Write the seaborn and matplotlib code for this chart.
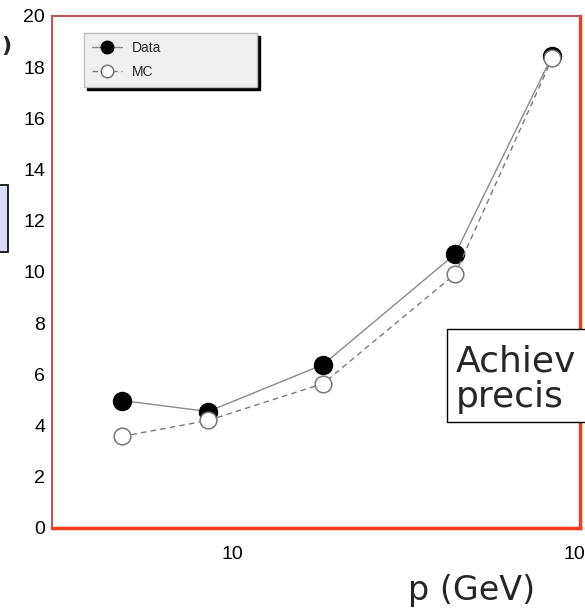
import matplotlib
matplotlib.use("Agg")
import matplotlib.pyplot as plt
from matplotlib.patches import Rectangle
from matplotlib.ticker import MultipleLocator, LogLocator, NullFormatter
import seaborn as sns
import pandas as pd

# ---- data ----
p_gev = [4.8, 8.5, 18.2, 43.7, 83.2]
data_vals = [4.98, 4.55, 6.38, 10.7, 18.45]
mc_vals = [3.58, 4.2, 5.64, 9.92, 18.35]
series_labels = ["Data", "MC"]
y_ticks = [0, 2, 4, 6, 8, 10, 12, 14, 16, 18, 20]
x_ticks = [10, 100]
x_tick_labels = ["10", "100"]

sns.set_style("white")
plt.rcParams["font.family"] = ["Liberation Sans", "DejaVu Sans"]

W, H = 585, 608
fig = plt.figure(figsize=(W / 100, H / 100), dpi=100)
ax = fig.add_axes([52 / W, 1 - 528 / H, (580 - 52) / W, (528 - 16) / H])

df_data = pd.DataFrame({"p": p_gev, "val": data_vals})
df_mc = pd.DataFrame({"p": p_gev, "val": mc_vals})

sns.lineplot(data=df_data, x="p", y="val", ax=ax, color="#8a8a8a", lw=1.0,
             marker="o", markersize=13, markerfacecolor="black",
             markeredgecolor="black", markeredgewidth=1, label=series_labels[0])
sns.lineplot(data=df_mc, x="p", y="val", ax=ax, color="#7a7a7a", lw=1.0,
             linestyle=(0, (4, 3)), marker="o", markersize=12,
             markerfacecolor="white", markeredgecolor="#777777",
             markeredgewidth=1.1, label=series_labels[1])

ax.set_xscale("log")
ax.set_xlim(3.02, 100)
ax.set_ylim(0, 20)
ax.set_xticks(x_ticks)
ax.set_xticklabels(x_tick_labels)
ax.xaxis.set_minor_locator(LogLocator(base=10, subs=range(2, 10)))
ax.xaxis.set_minor_formatter(NullFormatter())
ax.set_yticks(y_ticks)
ax.yaxis.set_minor_locator(MultipleLocator(0.4))
ax.set_xlabel("")
ax.set_ylabel("")

ax.tick_params(which="both", direction="in", color="#808080", width=1,
               top=False, right=False, labelsize=14, labelcolor="black")
ax.tick_params(which="major", length=10.8)
ax.tick_params(which="minor", length=5)
ax.tick_params(axis="y", which="major", pad=5)
ax.tick_params(axis="x", which="major", pad=13)

for side in ("left", "top"):
    ax.spines[side].set_color("#b05a5a")
    ax.spines[side].set_linewidth(1.5)
for side in ("right", "bottom"):
    ax.spines[side].set_color("#ff3a1a")
    ax.spines[side].set_linewidth(2.5)

leg = ax.legend(loc="upper left", bbox_to_anchor=(84 / W, 1 - 87 / H, 173 / W, 54 / H),
                bbox_transform=fig.transFigure, mode="expand", borderaxespad=0,
                frameon=True, fancybox=False,
                shadow={"ox": 2.5, "oy": -2.5, "facecolor": "black",
                        "edgecolor": "black", "alpha": 1},
                prop={"family": "Liberation Sans", "size": 10},
                handlelength=2.2, handletextpad=0.7, borderpad=0.55,
                labelspacing=0.75)
leg.get_frame().set_facecolor("#f0f0f0")
leg.get_frame().set_edgecolor("#bdbdbd")
leg.get_frame().set_linewidth(1)
for h in leg.legend_handles:
    h.set_markersize(9)

# cropped slide elements around the chart
fig.text(1 / W, 1 - 46 / H, ")", fontsize=16, fontweight="bold",
         ha="left", va="center", family="DejaVu Sans")
fig.add_artist(Rectangle((-10 / W, 1 - 252 / H), 18 / W, 67 / H,
                         transform=fig.transFigure, facecolor="#dcdcfa",
                         edgecolor="black", lw=1.2))
fig.add_artist(Rectangle((447 / W, 1 - 422 / H), 160 / W, 93 / H,
                         transform=fig.transFigure, facecolor="white",
                         edgecolor="black", lw=1.0, zorder=5))
fig.text(456 / W, 1 - 372 / H, "Achiev", fontsize=26, ha="left", va="baseline",
         family="DejaVu Sans", zorder=6)
fig.text(456 / W, 1 - 407 / H, "precis", fontsize=26, ha="left", va="baseline",
         family="DejaVu Sans", zorder=6)
fig.text(408 / W, 1 - 600 / H, "p (GeV)", fontsize=24, ha="left", va="baseline",
         family="DejaVu Sans")

fig.savefig("out.png", dpi=100)
